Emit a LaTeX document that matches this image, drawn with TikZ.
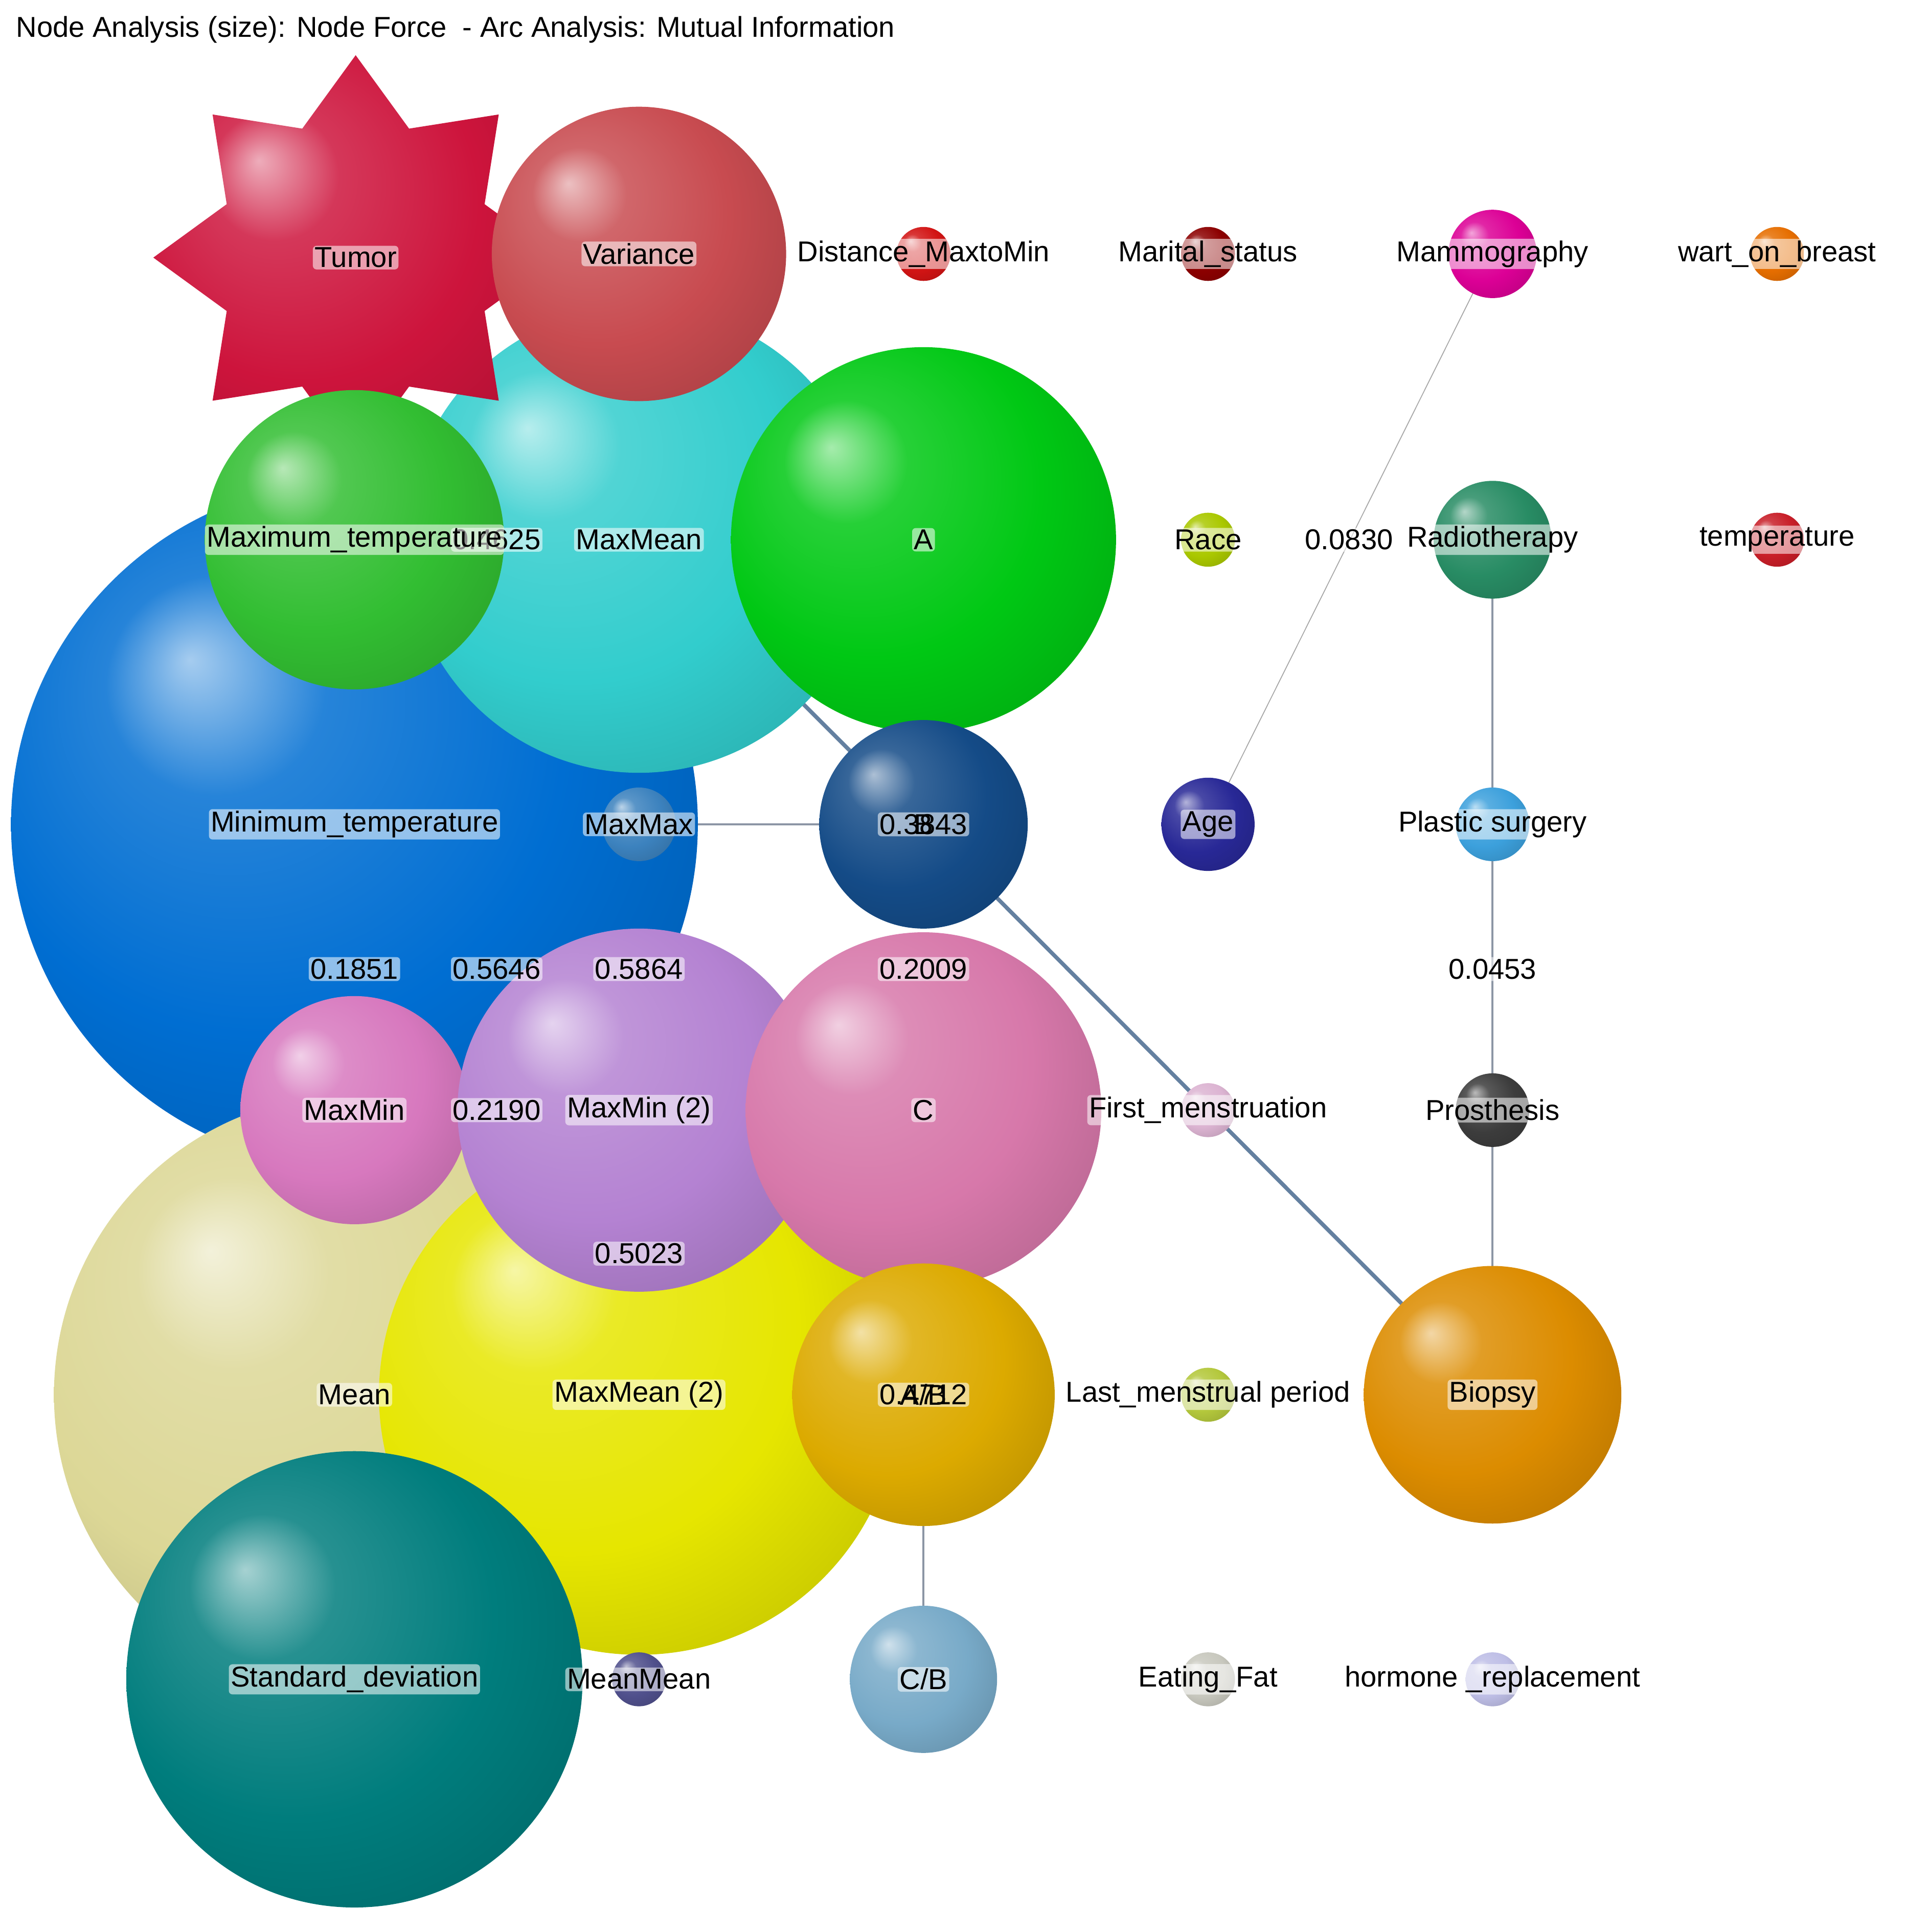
\documentclass[tikz,border=0pt]{standalone}
\usepackage{fontspec}
\setmainfont{Liberation Sans}
\usetikzlibrary{shapes.geometric}
\definecolor{bc}{RGB}{0,0,0}
\pgfdeclareradialshading[bc]{myball}{\pgfpoint{-12bp}{12bp}}{color(0bp)=(bc!35!white);color(8bp)=(bc!85!white);color(22bp)=(bc);color(40bp)=(bc!80!black);color(50bp)=(bc!65!black)}
\definecolor{cTumor}{RGB}{205,20,60}
\definecolor{cVar}{RGB}{200,75,80}
\definecolor{cDist}{RGB}{210,20,20}
\definecolor{cMar}{RGB}{140,0,0}
\definecolor{cMammo}{RGB}{220,0,150}
\definecolor{cWart}{RGB}{230,110,0}
\definecolor{cMaxMean}{RGB}{50,205,205}
\definecolor{cMaxT}{RGB}{50,190,50}
\definecolor{cA}{RGB}{0,200,20}
\definecolor{cRace}{RGB}{170,200,0}
\definecolor{cRadio}{RGB}{40,140,100}
\definecolor{cTemp}{RGB}{200,30,40}
\definecolor{cMinT}{RGB}{0,110,210}
\definecolor{cMaxMax}{RGB}{60,130,190}
\definecolor{cB}{RGB}{20,75,135}
\definecolor{cAge}{RGB}{40,40,150}
\definecolor{cPlast}{RGB}{60,160,220}
\definecolor{cMean}{RGB}{220,215,150}
\definecolor{cMaxMeanB}{RGB}{230,230,0}
\definecolor{cMaxMin}{RGB}{215,120,190}
\definecolor{cMaxMinB}{RGB}{180,130,210}
\definecolor{cC}{RGB}{215,120,170}
\definecolor{cFirst}{RGB}{220,180,210}
\definecolor{cPros}{RGB}{60,60,60}
\definecolor{cAB}{RGB}{220,170,0}
\definecolor{cLast}{RGB}{180,200,60}
\definecolor{cBiop}{RGB}{220,140,0}
\definecolor{cStd}{RGB}{0,125,125}
\definecolor{cMeanMean}{RGB}{80,80,140}
\definecolor{cCB}{RGB}{120,170,200}
\definecolor{cEat}{RGB}{200,200,190}
\definecolor{cHorm}{RGB}{190,190,230}
\definecolor{eThick}{RGB}{100,128,160}
\definecolor{eMid}{RGB}{140,150,165}
\begin{document}
\begin{tikzpicture}[x=0.024cm,y=-0.024cm,
  bcol/.code={\colorlet{bc}{#1}},
  ball/.style={circle,draw=none,shading=myball,inner sep=0pt,minimum size=#1*0.024cm},
  lab/.style={font=\fontsize{16}{18}\selectfont,fill=white,fill opacity=0.55,text opacity=1,inner sep=1pt,rounded corners=2pt},
  thick edge/.style={line width=2.2pt,draw=eThick},
  mid edge/.style={line width=1.2pt,draw=eMid},
  thin edge/.style={line width=0.5pt,draw=gray!70}]
\useasboundingbox (0,0) rectangle (1553,1575);
\node[anchor=west,font=\fontsize{16}{18}\selectfont] (title) at (8,24) {Node Analysis (size): Node Force \ - Arc Analysis: Mutual Information};
% coordinates
\coordinate (pMinT) at (289,672); \coordinate (pMaxMean) at (521,440);
\coordinate (pB) at (753,672); \coordinate (pMaxMax) at (521,672);
\coordinate (pBiop) at (1217,1137); \coordinate (pMammo) at (1217,207);
\coordinate (pAge) at (985,672); \coordinate (pRadio) at (1217,440);
\coordinate (pPlast) at (1217,672); \coordinate (pPros) at (1217,905);
\coordinate (pAB) at (753,1137); \coordinate (pCB) at (753,1369);
% edges
\draw[thick edge] (pMaxMean) -- (pB) -- (pBiop);
\draw[mid edge] (pMaxMax) -- (pB);
\draw[thin edge] (pMammo) -- (pAge);
\draw[mid edge] (pRadio) -- (pPlast) -- (pPros) -- (pBiop);
\draw[mid edge] (pAB) -- (pCB);
% nodes
\node[bcol=cMinT,ball=560] (MinT) at (pMinT) {};
\node[bcol=cMaxMean,ball=380] (MaxMean) at (pMaxMean) {};
\node[bcol=cTumor,star,star points=8,star point ratio=1.45,minimum size=330*0.024cm,draw=none,shading=myball,inner sep=0pt] (Tumor) at (290,210) {};
\node[bcol=cVar,ball=240] (Var) at (521,207) {};
\node[bcol=cDist,ball=44] (Dist) at (753,207) {};
\node[bcol=cMar,ball=44] (Mar) at (985,207) {};
\node[bcol=cMammo,ball=72] (Mammo) at (pMammo) {};
\node[bcol=cWart,ball=44] (Wart) at (1449,207) {};
\node[bcol=cMaxT,ball=244] (MaxT) at (289,440) {};
\node[bcol=cA,ball=314] (A) at (753,440) {};
\node[bcol=cRace,ball=44] (Race) at (985,440) {};
\node[bcol=cRadio,ball=96] (Radio) at (pRadio) {};
\node[bcol=cTemp,ball=44] (Temp) at (1449,440) {};
\node[bcol=cMaxMax,ball=60] (MaxMax) at (pMaxMax) {};
\node[bcol=cB,ball=170] (B) at (pB) {};
\node[bcol=cAge,ball=76] (Age) at (pAge) {};
\node[bcol=cPlast,ball=60] (Plast) at (pPlast) {};
\node[bcol=cMean,ball=490] (Mean) at (289,1137) {};
\node[bcol=cMaxMeanB,ball=424] (MaxMean2) at (521,1137) {};
\node[bcol=cMaxMin,ball=186] (MaxMin) at (289,905) {};
\node[bcol=cMaxMinB,ball=296] (MaxMin2) at (521,905) {};
\node[bcol=cC,ball=290] (C) at (753,905) {};
\node[bcol=cFirst,ball=44] (First) at (985,905) {};
\node[bcol=cPros,ball=60] (Pros) at (pPros) {};
\node[bcol=cAB,ball=214] (AB) at (pAB) {};
\node[bcol=cLast,ball=44] (Last) at (985,1137) {};
\node[bcol=cBiop,ball=210] (Biop) at (pBiop) {};
\node[bcol=cStd,ball=372] (Std) at (289,1369) {};
\node[bcol=cMeanMean,ball=44] (MeanMean) at (521,1369) {};
\node[bcol=cCB,ball=120] (CB) at (pCB) {};
\node[bcol=cEat,ball=44] (Eat) at (985,1369) {};
\node[bcol=cHorm,ball=44] (Horm) at (1217,1369) {};
% labels
\node[lab] (lTumor) at (Tumor) {Tumor};
\node[lab] (lVar) at (Var) {Variance};
\node[lab] (lDist) at (Dist) {Distance\_MaxtoMin};
\node[lab] (lMar) at (Mar) {Marital\_status};
\node[lab] (lMammo) at (Mammo) {Mammography};
\node[lab] (lWart) at (Wart) {wart\_on\_breast};
\node[lab] (e1) at (405,440) {0.4625};
\node[lab] (lMaxT) at (MaxT) {Maximum\_temperature};
\node[lab] (lMaxMean) at (MaxMean) {MaxMean};
\node[lab] (lA) at (A) {A};
\node[lab] (lRace) at (Race) {Race};
\node[lab] (e2) at (1100,440) {0.0830};
\node[lab] (lRadio) at (Radio) {Radiotherapy};
\node[lab] (lTemp) at (Temp) {temperature};
\node[lab] (lMinT) at (MinT) {Minimum\_temperature};
\node[lab] (lMaxMax) at (MaxMax) {MaxMax};
\node[lab] (e3) at (B) {0.3843};
\node[lab,fill opacity=0] (lB) at (B) {B};
\node[lab] (lAge) at (Age) {Age};
\node[lab] (lPlast) at (Plast) {Plastic surgery};
\node[lab] (e4) at (289,790) {0.1851};
\node[lab] (e5) at (405,790) {0.5646};
\node[lab] (e6) at (521,790) {0.5864};
\node[lab] (e7) at (753,790) {0.2009};
\node[lab] (e8) at (1217,790) {0.0453};
\node[lab] (lMaxMin) at (MaxMin) {MaxMin};
\node[lab] (e9) at (405,905) {0.2190};
\node[lab] (lMaxMin2) at (MaxMin2) {MaxMin (2)};
\node[lab] (lC) at (C) {C};
\node[lab] (lFirst) at (First) {First\_menstruation};
\node[lab] (lPros) at (Pros) {Prosthesis};
\node[lab] (e10) at (521,1022) {0.5023};
\node[lab] (lMean) at (Mean) {Mean};
\node[lab] (lMaxMean2) at (MaxMean2) {MaxMean (2)};
\node[lab] (e11) at (AB) {0.4712};
\node[lab,fill opacity=0] (lAB) at (AB) {A/B};
\node[lab] (lLast) at (Last) {Last\_menstrual period};
\node[lab] (lBiop) at (Biop) {Biopsy};
\node[lab] (lStd) at (Std) {Standard\_deviation};
\node[lab] (lMeanMean) at (MeanMean) {MeanMean};
\node[lab] (lCB) at (CB) {C/B};
\node[lab] (lEat) at (Eat) {Eating\_Fat};
\node[lab] (lHorm) at (Horm) {hormone \_replacement};
\end{tikzpicture}
\end{document}
